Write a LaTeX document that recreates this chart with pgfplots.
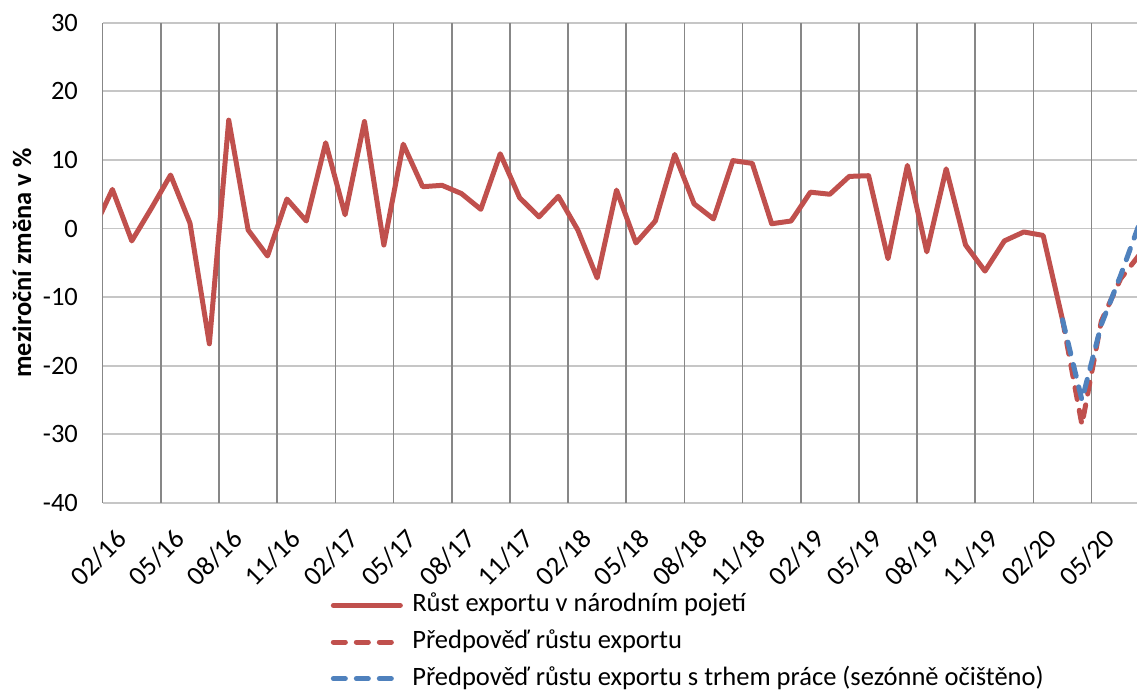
\documentclass[border=0pt]{standalone}
\usepackage{fontspec}
\setmainfont{Carlito}
\usepackage{pgfplots}
\usepackage{pgfplotstable}
\pgfplotsset{compat=1.18}
\definecolor{exred}{HTML}{C0504D}
\definecolor{exblue}{HTML}{4F81BD}
\definecolor{vgrid}{HTML}{878787}
\definecolor{hgrid}{HTML}{C6C6C6}
\newcommand{\chartfont}{\fontsize{13.25}{16}\selectfont}
\newcommand{\xfont}{\fontsize{13.6}{16}\selectfont}

\pgfplotstableread{
i v
-1 -0.3
0 5.7
1 -1.8
2 2.9
3 7.8
4 0.8
5 -16.8
6 15.8
7 -0.2
8 -4.0
9 4.3
10 1.1
11 12.5
12 2.0
13 15.6
14 -2.4
15 12.3
16 6.1
17 6.3
18 5.1
19 2.8
20 10.9
21 4.5
22 1.7
23 4.7
24 -0.2
25 -7.2
26 5.6
27 -2.1
28 1.1
29 10.8
30 3.6
31 1.4
32 9.9
33 9.5
34 0.7
35 1.1
36 5.3
37 5.0
38 7.6
39 7.7
40 -4.4
41 9.2
42 -3.4
43 8.7
44 -2.4
45 -6.2
46 -1.8
47 -0.5
48 -1.0
49 -13.3
}\actual

\pgfplotstableread{
i v
49 -13.3
50 -28.6
51 -13.5
52 -7.3
53 -3.7
}\forecast

\pgfplotstableread{
i v
49 -13.3
50 -25.0
51 -14.0
52 -6.8
53 1.0
}\forecastlab

\begin{document}
\begin{tikzpicture}
\path[use as bounding box] (-51.35pt,-93.5pt) rectangle (517.15pt,251.5pt);
\begin{axis}[
  at={(0pt,0pt)}, anchor=south west,
  scale only axis, width=517.15pt, height=240.15pt,
  xmin=-0.5, xmax=52.84, ymin=-40, ymax=30,
  ytick={-40,-30,...,30},
  xtick={0,3,...,51},
  xticklabels={02/16,05/16,08/16,11/16,02/17,05/17,08/17,11/17,02/18,05/18,08/18,11/18,02/19,05/19,08/19,11/19,02/20,05/20},
  extra x ticks={-0.5,2.5,...,50.5},
  extra x tick labels={},
  extra x tick style={grid=major},
  xmajorgrids=false,
  ymajorgrids=true,
  x grid style={vgrid, line width=0.8pt},
  y grid style={hgrid, line width=0.9pt},
  major tick length=0pt,
  tick style={draw=none},
  axis line style={draw=none},
  /pgf/number format/assume math mode=true,
  yticklabel style={font=\chartfont, anchor=east, inner sep=0pt, xshift=-12.2pt},
  xticklabel style={font=\xfont, inner sep=0pt, xshift=1pt, yshift=-12pt, rotate=45, anchor=north east},
  ylabel={meziroční změna v \%},
  ylabel style={font=\bfseries\chartfont, at={(axis description cs:-0.078,0.5)}, anchor=center},
  legend style={draw=none, fill=none, inner sep=0pt,
    at={(axis description cs:0.2202,-0.1843)}, anchor=north west,
    row sep=4.8pt, column sep=4.75pt,
    nodes={inner sep=0pt, text height=10pt, text depth=3.5pt, font=\chartfont}},
  legend cell align=left,
  legend image code/.code={\draw[#1, line cap=round] (0pt,0pt) -- (33.5pt,0pt);},
]
\addplot[exred, line width=2.5pt, line join=round, line cap=round] table[x=i, y=v] {\actual};
\addlegendentry{Růst exportu v národním pojetí}
\addplot[exred, line width=2.5pt, line join=round, line cap=round, dash pattern=on 6pt off 5.5pt] table[x=i, y=v] {\forecast};
\addlegendentry{Předpověď růstu exportu}
\addplot[exblue, line width=2.5pt, line join=round, line cap=round, dash pattern=on 6pt off 5.5pt] table[x=i, y=v] {\forecastlab};
\addlegendentry{Předpověď růstu exportu s trhem práce (sezónně očištěno)}
\end{axis}
\end{tikzpicture}
\end{document}
